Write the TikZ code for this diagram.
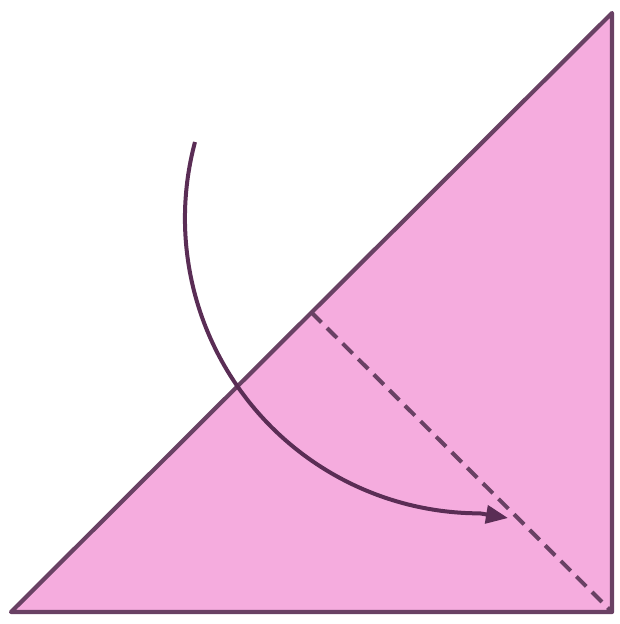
\documentclass[tikz,border=0pt]{standalone}
\usetikzlibrary{arrows.meta,calc}
\definecolor{paperpink}{RGB}{245,172,222}
\definecolor{edgepurple}{RGB}{105,65,100}
\definecolor{arrowpurple}{RGB}{90,45,85}
\tikzset{
  paper/.style={fill=paperpink, draw=edgepurple, line width=4.2pt, line join=round},
  foldline/.style={draw=edgepurple, line width=4pt, dash pattern=on 14pt off 8pt},
  foldarrow/.style={draw=arrowpurple, line width=4pt, -{Triangle[length=22pt,width=18pt]}}
}
\begin{document}
\begin{tikzpicture}[x=1pt,y=-1pt]
\useasboundingbox (0,0) rectangle (619,624);
\coordinate (bl) at (11,612);
\coordinate (tr) at (612,13);
\coordinate (br) at (612,612);
\coordinate (mid) at ($(bl)!0.5!(tr)$);
\path[paper] (bl) -- (tr) -- (br) -- cycle;
\draw[foldline] (mid) -- (br);
\coordinate (astart) at (195,142);
\coordinate (aend) at (508,518);
\draw[foldarrow] (astart) arc[start angle=195, end angle=90, radius=295] -- (aend);
\end{tikzpicture}
\end{document}
